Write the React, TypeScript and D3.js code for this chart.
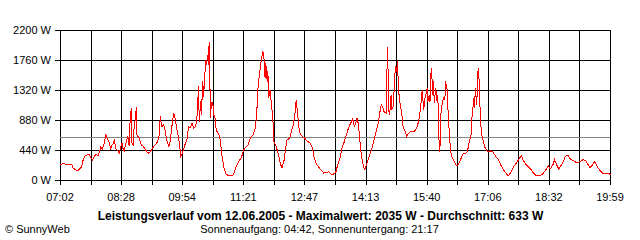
import * as d3 from 'd3';

// minutes after 07:02 and measured power (W)
const offsets = [
  0, 4, 8, 16, 18, 23, 26, 30, 32, 35, 40, 42, 45, 48, 50, 53, 55, 57, 59, 62,
  64, 66, 69, 71, 73, 75, 76, 78, 81, 83, 85, 87, 88, 90, 93, 95, 97, 98, 100, 101,
  103, 104, 106, 107, 108, 111, 114, 117, 121, 124, 127, 130, 133, 136, 139, 141, 143, 146, 148, 150,
  153, 155, 157, 160, 162, 164, 167, 169, 170, 172, 175, 179, 181, 183, 186, 188,
  191, 193, 195, 196, 198, 199, 201, 202, 204, 205, 206, 208, 209, 210, 211, 212, 213, 215, 217, 218,
  219, 221, 224, 226, 228, 231, 234, 238, 243, 245, 248, 252, 256, 259, 261, 265, 268, 272, 275, 277,
  279, 281, 283, 285, 286, 288, 289, 290, 292, 293, 294, 296, 298, 300, 301, 304, 306, 308, 311, 313,
  316, 318, 320, 324, 326, 329, 331, 333, 335, 337, 339, 342, 345, 349, 353, 356, 358, 361, 365, 369,
  372, 377, 379, 381, 384,
  389, 391, 395, 397, 401, 404, 407, 410, 413, 415, 417, 419, 421, 423, 425, 428, 430, 432, 436, 440,
  443, 446, 449, 451, 453, 455, 457, 460, 461, 462, 464, 465, 467, 468, 470, 472, 473, 475, 476, 477,
  478, 480, 482, 484, 487, 489, 492, 495, 500, 503, 506, 508, 510, 511, 513, 515, 518, 519, 521, 522,
  523, 524, 526, 527, 528, 530, 532, 533, 535, 536, 537, 539, 541, 543, 544, 546, 548, 550, 552, 556,
  559, 562, 566, 569, 573, 575, 577, 580, 581,
  584, 585, 586, 588, 590, 591, 592, 593, 595, 598, 600, 604, 607, 611, 615, 619, 623, 626, 631, 633,
  637, 640, 644, 647, 651, 654, 658, 662, 665, 668, 672, 677, 681, 684, 687, 689, 691, 693, 696, 698,
  701, 704, 707, 711, 713, 717, 720, 724, 728, 731, 734, 738, 742, 745, 748, 751, 754, 757, 759, 762,
  766, 771, 775, 777,
];
const watts = [
  230, 254, 230, 230, 181, 142, 156, 205, 303, 362, 386, 352, 303, 352, 386, 362, 416, 499, 464, 548,
  670, 621, 548, 464, 523, 548, 606, 464, 435, 401, 499, 548, 474, 435, 572, 645, 499, 816, 1061, 548,
  523, 792, 924, 1071, 670, 621, 523, 499, 435, 401, 425, 474, 513, 548, 621, 939, 792, 816, 719, 596,
  499, 572, 768, 988, 914, 768, 621, 450, 352, 401, 499, 621, 792, 768, 841, 768,
  792, 963, 1379, 865, 1159, 963, 1452, 1232, 1550, 1770, 1697, 1843, 1697, 2035, 1452, 914, 1134, 1149, 939, 963,
  792, 719, 670, 572, 376, 181, 93, 68, 68, 108, 205, 279, 352, 450, 484, 523, 621, 670, 768, 939,
  1354, 1550, 1721, 1843, 1892, 1746, 1501, 1721, 1452, 1599, 1208, 1330, 1110, 939, 572, 523, 450, 376, 230, 191,
  303, 474, 596, 621, 719, 816, 963, 1183, 963, 768, 670, 645, 621, 572, 548, 474, 352, 254, 191, 142,
  108, 122, 132, 103, 83,
  122, 205, 328, 450, 572, 670, 777, 841, 904, 792, 841, 914, 816, 572, 376, 205, 156, 230, 352, 474,
  596, 719, 841, 988, 1110, 1085, 1012, 988, 1501, 1965, 1012, 963, 1256, 1036, 1085, 1452, 1672, 1599, 1746, 1476,
  1281, 1110, 988, 792, 719, 645, 694, 719, 719, 768, 865, 1012, 1208, 1330, 1036, 1208, 1354, 1159, 1256, 1159,
  1525, 1648, 1256, 1452, 1134, 1354, 1159, 1256, 499, 425, 939, 1110, 1208, 1183, 1452, 1354, 914, 572, 376, 279,
  220, 230, 328, 401, 401, 425, 548, 670, 890,
  1208, 1061, 1354, 1110, 1648, 1525, 1379, 914, 670, 548, 474, 416, 435, 416, 352, 303, 205, 156, 83, 73,
  132, 205, 254, 303, 367, 289, 230, 191, 156, 108, 73, 73, 93, 132, 181, 220, 181, 181, 240, 303,
  230, 166, 220, 289, 352, 376, 318, 294, 269, 259, 279, 303, 294, 240, 191, 220, 279, 240, 191, 151,
  108, 103, 103, 83,
];

const yTicks = [0, 440, 880, 1320, 1760, 2200];
const timeLabels = ['07:02', '08:28', '09:54', '11:21', '12:47', '14:13', '15:40', '17:06', '18:32', '19:59'];
const totalMinutes = 777;
const average = 633;
const maximum = 2035;
const dateText = '12.06.2005';
const sunrise = '04:42';
const sunset = '21:17';

const W = 640;
const H = 240;
const left = 60;
const right = 610;
const top = 30;
const bottom = 180;

const px = (v: number) => Math.round(v) + 0.5;

export default function App() {
  const x = d3.scaleLinear().domain([0, totalMinutes]).range([left, right]);
  const y = d3.scaleLinear().domain([0, 2200]).range([bottom, top]);

  const gridMinutes = d3.range(19).map((i) => (i * totalMinutes) / 18);

  const points = offsets.map((m, i) => [m, watts[i]] as [number, number]);
  const line = d3
    .line<[number, number]>()
    .x((d) => x(d[0]) + 0.5)
    .y((d) => y(d[1]) + 0.5);

  const font = '"Liberation Sans", Arial, sans-serif';

  return (
    <svg
      width={W}
      height={H}
      style={{ position: 'absolute', left: 0, top: 0, background: '#fff' }}
      fontFamily={font}
      fontSize={11}
    >
      <rect width={W} height={H} fill="#fff" />
      <g stroke="#000" strokeWidth={1} shapeRendering="crispEdges">
        {yTicks.map((t) => (
          <line key={'h' + t} x1={left - 5} x2={right + 0.5} y1={px(y(t))} y2={px(y(t))} />
        ))}
        {gridMinutes.map((m, i) => (
          <line key={'v' + i} x1={px(x(m))} x2={px(x(m))} y1={top} y2={bottom + 5} />
        ))}
      </g>
      <line
        x1={left}
        x2={right}
        y1={px(y(average))}
        y2={px(y(average))}
        stroke="#808080"
        strokeWidth={1}
        shapeRendering="crispEdges"
      />
      <path
        d={line(points) ?? ''}
        fill="none"
        stroke="#ff0000"
        strokeWidth={1}
        shapeRendering="crispEdges"
      />
      {yTicks.map((t) => (
        <text key={'yl' + t} x={51} y={y(t)} dy="0.36em" textAnchor="end" fill="#000">
          {t} W
        </text>
      ))}
      {timeLabels.map((label, i) => (
        <text key={'xl' + i} x={x(gridMinutes[i * 2])} y={201} textAnchor="middle" fill="#000">
          {label}
        </text>
      ))}
      <text x={320.5} y={219.5} textAnchor="middle" fontWeight="bold" fontSize={12} fill="#000">
        {`Leistungsverlauf vom ${dateText} - Maximalwert: ${maximum} W - Durchschnitt: ${average} W`}
      </text>
      <text x={319.5} y={233} textAnchor="middle" fill="#000">
        {`Sonnenaufgang: ${sunrise}, Sonnenuntergang: ${sunset}`}
      </text>
      <text x={5} y={233} fill="#000">
        © SunnyWeb
      </text>
    </svg>
  );
}
